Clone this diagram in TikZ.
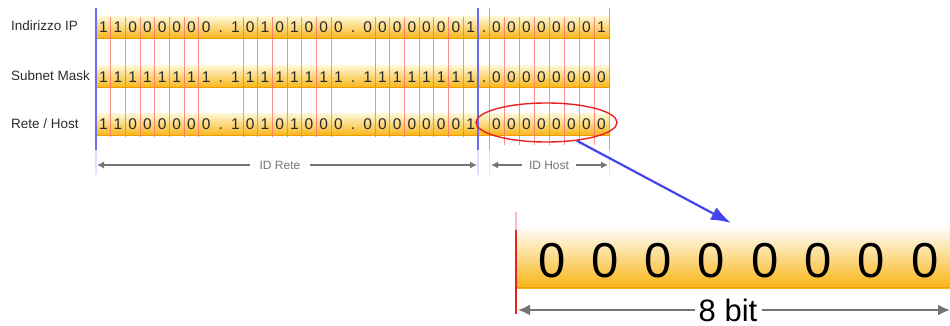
\documentclass[tikz,border=0pt]{standalone}
\usepackage{fontspec}
\setmainfont{Liberation Sans}
\usetikzlibrary{arrows.meta,shapes.geometric}
\definecolor{barlight}{HTML}{FFF6D2}
\definecolor{barmid}{HTML}{FFD65C}
\definecolor{bardark}{HTML}{F8B414}
\definecolor{baredge}{HTML}{EE9E00}
\definecolor{bitred}{HTML}{FF7070}
\definecolor{sepblue}{HTML}{6B6BF6}
\definecolor{zoomblue}{HTML}{4444EE}
\definecolor{ovalred}{HTML}{E82222}
\definecolor{dimgray}{HTML}{747474}
\definecolor{digitgray}{HTML}{2A2A2A}

\begin{document}
\begin{tikzpicture}[
    x=1pt, y=-1pt,
    rowlabel/.style={anchor=west, inner sep=0pt, font=\fontsize{13.5}{13.5}\selectfont, text=digitgray},
    bitdigit/.style={inner sep=0pt, text height=11pt, text depth=0pt, font=\fontsize{15.5}{15.5}\selectfont, text=digitgray},
    bigdigit/.style={inner sep=0pt, font=\fontsize{49}{49}\selectfont, text=black},
    idlabel/.style={inner sep=9pt, font=\fontsize{12}{12}\selectfont, text=dimgray},
    bitline/.style={bitred, line width=0.8pt, opacity=0.8},
    sepline/.style={sepblue, line width=1.3pt},
    dimarrow/.style={-{Latex[length=7pt,width=7pt]}, dimgray, line width=1.2pt}
]
    \useasboundingbox (0,0) rectangle (950,326);

    % bars of the three rows
    \foreach \yc in {28,77,125} {
        \shade[top color=barlight, middle color=barmid, bottom color=bardark] (96,{\yc-11}) rectangle (610,{\yc+11});
        \draw[baredge, line width=1pt] (96,{\yc+10.5}) -- (610,{\yc+10.5});
    }

    % bit separators, first three octets
    \foreach \k in {0,1,2} {
        \foreach \j in {1,...,7} {
            \draw[bitline] ({96+(9*\k+\j)*14.69},17) -- ++(0,120);
        }
    }
    % bit separators, last octet
    \foreach \j in {1,...,7} {
        \draw[bitline] ({489+15*\j},17) -- ++(0,128);
    }
    \foreach \xs in {489,609} {
        \draw[bitline] (\xs,8) -- (\xs,150);
        \draw[bitline, opacity=0.25] (\xs,150) -- (\xs,175);
    }

    % network / host split
    \foreach \xs in {96,478} {
        \draw[sepline] (\xs,8) -- (\xs,150);
        \draw[sepline, opacity=0.2] (\xs,150) -- (\xs,175);
    }

    % Indirizzo IP
    \node[rowlabel] (lblip) at (11,26) {Indirizzo IP};
    \foreach \b [count=\n from 0] in {1,1,0,0,0,0,0,0,.,1,0,1,0,1,0,0,0,.,0,0,0,0,0,0,0,1} {
        \node[bitdigit] (ip-\n) at ({96+(\n+0.5)*14.69},27) {\b};
    }
    \node[bitdigit] (ipdot) at (484,27) {.};
    \foreach \b [count=\n from 0] in {0,0,0,0,0,0,0,1} {
        \node[bitdigit] (iph-\n) at ({496.5+15*\n},27) {\b};
    }

    % Subnet Mask
    \node[rowlabel] (lblmask) at (11,76) {Subnet Mask};
    \foreach \b [count=\n from 0] in {1,1,1,1,1,1,1,1,.,1,1,1,1,1,1,1,1,.,1,1,1,1,1,1,1,1} {
        \node[bitdigit] (mask-\n) at ({96+(\n+0.5)*14.69},77) {\b};
    }
    \node[bitdigit] (maskdot) at (484,77) {.};
    \foreach \b [count=\n from 0] in {0,0,0,0,0,0,0,0} {
        \node[bitdigit] (maskh-\n) at ({496.5+15*\n},77) {\b};
    }

    % Rete / Host
    \node[rowlabel] (lblnet) at (11,124) {Rete / Host};
    \foreach \b [count=\n from 0] in {1,1,0,0,0,0,0,0,.,1,0,1,0,1,0,0,0,.,0,0,0,0,0,0,0,1} {
        \node[bitdigit] (net-\n) at ({96+(\n+0.5)*14.69},124) {\b};
    }
    \foreach \b [count=\n from 0] in {0,0,0,0,0,0,0,0} {
        \node[bitdigit] (neth-\n) at ({496.5+15*\n},124) {\b};
    }
    \node[draw=ovalred, line width=1.4pt, ellipse, minimum width=141pt, minimum height=39pt, inner sep=0pt] (hostoval) at (546.5,122.5) {};

    % ID arrows
    \node[idlabel] (idrete) at (280,165) {ID Rete};
    \coordinate (reteL) at (97,165);
    \coordinate (reteR) at (477,165);
    \draw[dimarrow] (idrete) -- (reteL);
    \draw[dimarrow] (idrete) -- (reteR);

    \node[idlabel, inner sep=7pt] (idhost) at (549,165) {ID Host};
    \coordinate (hostL) at (491,165);
    \coordinate (hostR) at (608,165);
    \draw[dimarrow] (idhost) -- (hostL);
    \draw[dimarrow] (idhost) -- (hostR);

    % zoom of the host part
    \coordinate (zoomtip) at (731,223);
    \draw[-{Latex[length=20pt,width=14pt]}, zoomblue, line width=2.2pt] (hostoval.-31) -- (zoomtip);

    \shade[top color=white, middle color=barmid, bottom color=bardark] (516,226) rectangle (950,288);
    \draw[baredge, line width=1pt] (516,287.5) -- (950,287.5);
    \foreach \n in {0,...,7} {
        \node[bigdigit] (big-\n) at ({551.7+53.3*\n},261) {0};
    }
    \draw[ovalred, line width=1.4pt, opacity=0.3] (516,212) -- (516,230);
    \draw[ovalred, line width=1.4pt] (516,230) -- (516,314);

    % 8 bit
    \node[inner sep=4pt, font=\fontsize{31}{31}\selectfont, text=black] (eightbit) at (728,310) {8 bit};
    \coordinate (bitsL) at (518,310);
    \coordinate (bitsR) at (950,310);
    \draw[-{Latex[length=12pt,width=11pt]}, dimgray, line width=2pt] (eightbit) -- (bitsL);
    \draw[-{Latex[length=12pt,width=11pt]}, dimgray, line width=2pt] (eightbit) -- (bitsR);
\end{tikzpicture}
\end{document}
